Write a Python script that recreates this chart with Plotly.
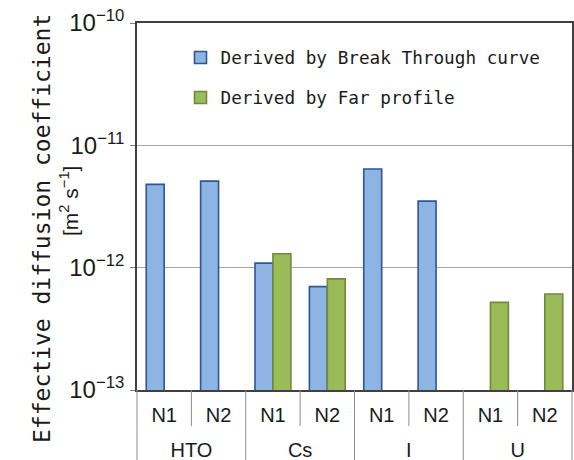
import plotly.graph_objects as go

# Sample labels (inner level) and tracer groups (outer level)
samples = ["N1", "N2", "N1", "N2", "N1", "N2", "N1", "N2"]
tracers = ["HTO", "HTO", "Cs", "Cs", "I", "I", "U", "U"]

# Effective diffusion coefficients [m2 s-1]
de_breakthrough = [4.8e-12, 5.1e-12, 1.09e-12, 7.0e-13, 6.4e-12, 3.5e-12, None, None]
de_far_profile = [None, None, 1.3e-12, 8.1e-13, None, None, 5.2e-13, 6.1e-13]

series_names = ["Derived by Break Through curve", "Derived by Far profile"]

# decades shown on the value axis
y_exponents = [-13, -12, -11, -10]

L, R, T, B = 137, 2, 23, 70
W, H = 574, 460
plot_h = H - T - B
SANS = "Liberation Sans, Arial, sans-serif"

# slot positions of the samples and centres of each tracer group
pos = list(range(len(samples)))
groups = list(dict.fromkeys(tracers))
group_centers = [sum(p for p, t in zip(pos, tracers) if t == g) / tracers.count(g) for g in groups]

fig = go.Figure()
fig.add_trace(go.Bar(
    x=pos, y=de_breakthrough, name=series_names[0],
    legendgroup="a", customdata=list(zip(tracers, samples)),
    marker=dict(color="#8DB4E2", line=dict(color="#2F5597", width=1.6)),
))
fig.add_trace(go.Bar(
    x=pos, y=de_far_profile, name=series_names[1],
    legendgroup="b", customdata=list(zip(tracers, samples)),
    marker=dict(color="#9BBB59", line=dict(color="#71893F", width=1.6)),
))
# carrier for the tracer-group axis
fig.add_trace(go.Scatter(x=group_centers, y=[None] * len(groups), xaxis="x2",
                         mode="markers", showlegend=False, hoverinfo="skip"))

# separators in the category label area
n = len(samples)
shapes = []
for i in range(1, n):
    outer_break = tracers[i] != tracers[i - 1]
    depth = 70 if outer_break else 36
    xp = i / n
    shapes.append(dict(type="line", xref="paper", yref="paper",
                       x0=xp, x1=xp, y0=0, y1=-depth / plot_h,
                       line=dict(color="#8c8c8c", width=1)))
for xp in (0, 1):
    shapes.append(dict(type="line", xref="paper", yref="paper",
                       x0=xp, x1=xp, y0=0, y1=-70 / plot_h,
                       line=dict(color="#8c8c8c", width=1)))

annotations = [
    dict(text="Effective diffusion coefficient", textangle=-90,
         xref="paper", yref="paper", x=(42 - L) / (W - L - R), y=(H - B - 229) / plot_h,
         xanchor="center", yanchor="middle", showarrow=False,
         font=dict(family="DejaVu Sans Mono", size=23, color="#1a1a1a")),
    dict(text="[m<sup>2</sup> s<sup>−1</sup>]", textangle=-90,
         xref="paper", yref="paper", x=(69 - L) / (W - L - R), y=(H - B - 201) / plot_h,
         xanchor="center", yanchor="middle", showarrow=False,
         font=dict(family=SANS, size=21, color="#1a1a1a")),
]

fig.update_layout(
    width=W, height=H,
    margin=dict(l=L, r=R, t=T, b=B, autoexpand=False),
    paper_bgcolor="white", plot_bgcolor="white",
    barmode="group", bargap=0.34, bargroupgap=0,
    showlegend=True,
    legend=dict(x=0.10, y=0.955, xanchor="left", yanchor="top",
                bgcolor="rgba(0,0,0,0)", traceorder="grouped",
                tracegroupgap=14,
                font=dict(family="DejaVu Sans Mono", size=17.7, color="#1a1a1a")),
    shapes=shapes,
    annotations=annotations,
    xaxis=dict(
        range=[-0.5, n - 0.5], tickmode="array", tickvals=pos, ticktext=samples,
        showline=True, linecolor="#404040", linewidth=1.5, mirror=True,
        ticks="", showgrid=False, zeroline=False, ticklabelstandoff=6,
        automargin=False,
        tickfont=dict(family=SANS, size=20, color="#1a1a1a"),
    ),
    xaxis2=dict(
        overlaying="x", side="bottom", anchor="y",
        range=[-0.5, n - 0.5], tickmode="array", tickvals=group_centers, ticktext=groups,
        showline=False, ticks="", showgrid=False, zeroline=False, ticklabelstandoff=46,
        automargin=False,
        tickfont=dict(family=SANS, size=20, color="#1a1a1a"),
    ),
)

fig.update_yaxes(
    type="log", range=[-13, -10],
    tickmode="array",
    tickvals=[10.0 ** e for e in y_exponents],
    ticktext=[f"10<sup><span style='font-size:15px'>{e:d}</span></sup>".replace("-", "−")
              for e in y_exponents],
    showgrid=True, gridcolor="#a6a6a6", gridwidth=1,
    showline=True, linecolor="#404040", linewidth=1.5, mirror=True,
    ticks="outside", ticklen=5, tickcolor="#808080", ticklabelstandoff=1,
    automargin=False,
    tickfont=dict(family=SANS, size=24, color="#1a1a1a"),
    zeroline=False,
)

fig.write_html("out.html")
